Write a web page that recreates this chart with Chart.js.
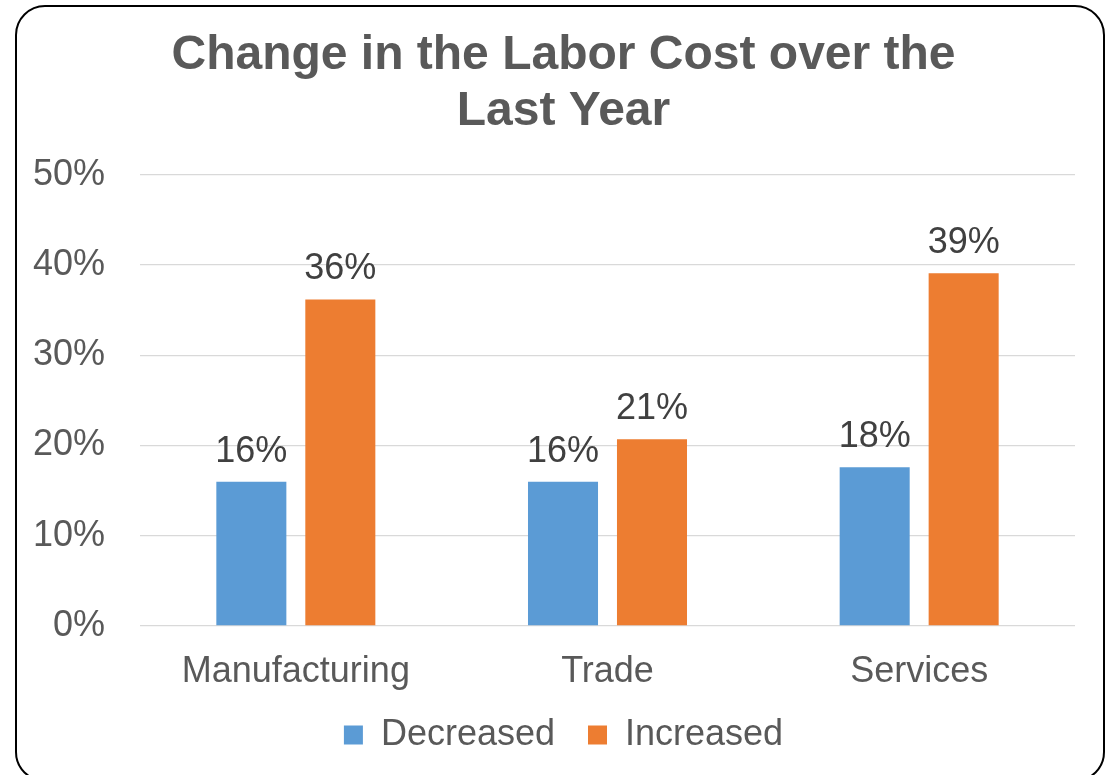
<!DOCTYPE html>
<html>
<head>
<meta charset="utf-8">
<script src="https://cdn.jsdelivr.net/npm/chart.js@4/dist/chart.umd.min.js"></script>
<style>
  html, body { margin: 0; padding: 0; background: #ffffff; overflow: hidden; }
  #wrap { position: relative; width: 1109px; height: 775px; }
  #frame {
    position: absolute; left: 15px; top: 5px; width: 1090px; height: 777px;
    box-sizing: border-box; border: 2px solid #000000; border-radius: 30px;
    pointer-events: none;
  }
  canvas { position: absolute; left: 0; top: 0; }
</style>
</head>
<body>
<div id="wrap">
  <canvas id="chart" width="1109" height="775"></canvas>
  <div id="frame"></div>
</div>
<script>
// Share of firms by sector whose labor cost changed over the last year (%)
const categories = ['Manufacturing', 'Trade', 'Services'];
const decreased = [16.0, 16.0, 17.6];
const increased = [36.2, 20.7, 39.1];
const yMin = 0;
const yMax = 50;
const yStep = 10;

const FONT = '"Liberation Sans", Arial, Helvetica, sans-serif';
const GREY_TEXT = '#595959';

// Tick labels may overhang their (tightened) axis box, so skip the label clip
const fixSize = (prop, size) => scale => {
  scale[prop] = size;
  scale._computeLabelArea = () => undefined;
};

// Writes the rounded value above each bar
const barValueLabels = {
  id: 'barValueLabels',
  afterDatasetsDraw(chart) {
    const ctx = chart.ctx;
    ctx.save();
    ctx.font = '36px ' + FONT;
    ctx.fillStyle = '#404040';
    ctx.textAlign = 'center';
    ctx.textBaseline = 'alphabetic';
    chart.data.datasets.forEach((ds, i) => {
      const meta = chart.getDatasetMeta(i);
      meta.data.forEach((bar, j) => {
        ctx.fillText(Math.round(ds.data[j]) + '%', bar.x, bar.y - 20);
      });
    });
    ctx.restore();
  }
};

new Chart(document.getElementById('chart'), {
  type: 'bar',
  data: {
    labels: categories,
    datasets: [
      { label: 'Decreased', data: decreased, backgroundColor: '#5B9BD5',
        categoryPercentage: 0.571, barPercentage: 0.787 },
      { label: 'Increased', data: increased, backgroundColor: '#ED7D31',
        categoryPercentage: 0.571, barPercentage: 0.787 }
    ]
  },
  options: {
    responsive: false,
    animation: false,
    layout: { padding: { left: 52, right: 34, top: 0, bottom: 12 } },
    plugins: {
      title: {
        display: true,
        text: ['Change in the Labor Cost over the', 'Last Year'],
        color: GREY_TEXT,
        font: { family: FONT, size: 48, weight: 'bold', lineHeight: 1.15 },
        padding: { top: 28.5, bottom: 36 }
      },
      legend: {
        position: 'bottom',
        labels: {
          color: GREY_TEXT,
          font: { family: FONT, size: 36 },
          boxWidth: 19,
          boxHeight: 19,
          padding: 33
        }
      },
      tooltip: { enabled: false }
    },
    scales: {
      x: {
        afterFit: fixSize('height', 58),
        grid: { display: false, drawTicks: false },
        border: { display: false },
        ticks: {
          color: GREY_TEXT,
          font: { family: FONT, size: 36, lineHeight: 0.889 },
          padding: 30
        }
      },
      y: {
        min: yMin,
        max: yMax,
        afterFit: fixSize('width', 88),
        grid: { color: '#D9D9D9', lineWidth: 1.3, drawTicks: false },
        border: { display: false },
        ticks: {
          stepSize: yStep,
          color: GREY_TEXT,
          font: { family: FONT, size: 36 },
          padding: 35,
          callback: v => v + '%'
        }
      }
    }
  },
  plugins: [barValueLabels]
});
</script>
</body>
</html>
